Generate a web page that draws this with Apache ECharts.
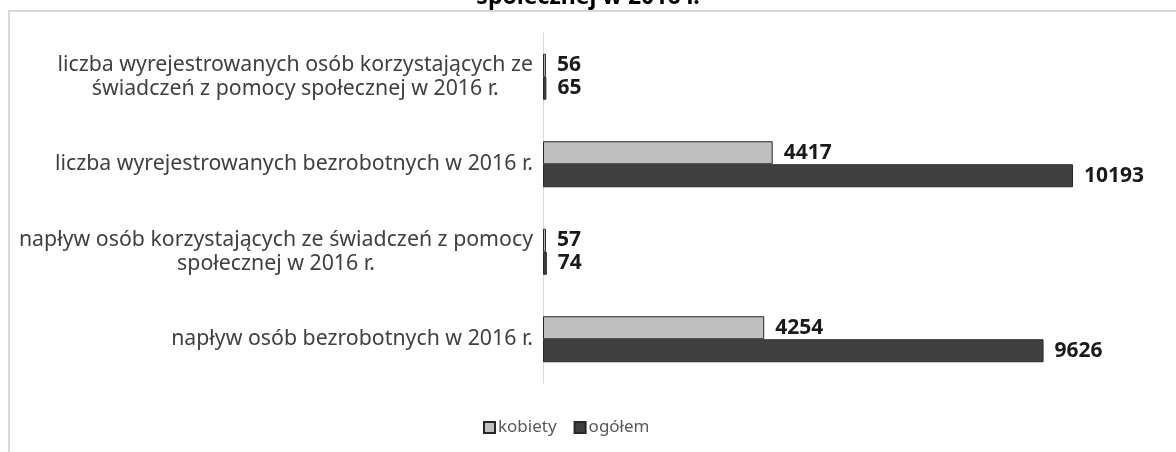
<!DOCTYPE html>
<html lang="pl">
<head>
    <meta charset="UTF-8">
    <title>Wykres</title>
    <script src="https://cdn.jsdelivr.net/npm/echarts@6/dist/echarts.min.js"></script>
    <style>
        html, body { margin: 0; padding: 0; background: #fff; overflow: hidden; }
        #chart { width: 1176px; height: 452px; }
    </style>
</head>
<body>
    <div id="chart"></div>
    <script>
        // dane, od góry do dołu jak na wykresie
        var categories = [
            'liczba wyrejestrowanych osób korzystających ze\nświadczeń z pomocy społecznej w 2016 r.',
            'liczba wyrejestrowanych bezrobotnych w 2016 r.',
            'napływ osób korzystających ze świadczeń z pomocy\nspołecznej w 2016 r.',
            'napływ osób bezrobotnych w 2016 r.'
        ];
        var kobiety = [56, 4417, 57, 4254];
        var ogolem = [65, 10193, 74, 9626];
        var seriesNames = ['kobiety', 'ogółem'];
        var titleText = 'społecznej w 2016 r.';

        var myChart = echarts.init(document.getElementById('chart'));

        var labelStyle = {
            show: true,
            position: 'right',
            distance: 11,
            color: '#1a1a1a',
            fontFamily: 'Noto Sans',
            fontWeight: 'bold',
            fontSize: 21
        };

        var option = {
            animation: false,
            title: {
                text: titleText,
                left: 'center',
                top: -19,
                textStyle: {
                    fontFamily: 'Noto Sans',
                    fontWeight: 'bold',
                    fontSize: 23,
                    color: '#000'
                }
            },
            graphic: [{
                type: 'rect',
                shape: { x: 9, y: 11, width: 1300, height: 600 },
                style: { fill: 'none', stroke: '#d9d9d9', lineWidth: 2 },
                silent: true
            }],
            legend: {
                left: 483,
                top: 419,
                padding: 0,
                itemWidth: 11,
                itemHeight: 11,
                itemGap: 17,
                icon: 'rect',
                textStyle: {
                    fontFamily: 'Noto Sans',
                    fontSize: 17,
                    color: '#595959',
                    padding: [0, 0, 0, -2]
                },
                data: seriesNames
            },
            grid: {
                left: 543,
                right: 9,
                top: 33,
                bottom: 69
            },
            xAxis: {
                type: 'value',
                min: 0,
                max: 12000,
                show: false
            },
            yAxis: {
                type: 'category',
                inverse: true,
                data: categories,
                axisLine: { lineStyle: { color: '#d9d9d9', width: 1 } },
                axisTick: { show: false },
                axisLabel: {
                    margin: 10,
                    color: '#404040',
                    fontFamily: 'Noto Sans',
                    fontSize: 21.3,
                    formatter: function (v) {
                        return v.split('\n').map(function (s) { return '{a|' + s + '}'; }).join('\n');
                    },
                    rich: {
                        a: {
                            align: 'center',
                            color: '#404040',
                            fontFamily: 'Noto Sans',
                            fontSize: 21.3,
                            lineHeight: 24
                        }
                    }
                }
            },
            series: [{
                name: seriesNames[0],
                type: 'bar',
                data: kobiety,
                barWidth: 23,
                barGap: '0%',
                itemStyle: { color: '#bfbfbf', borderColor: '#262626', borderWidth: 1 },
                label: labelStyle
            }, {
                name: seriesNames[1],
                type: 'bar',
                data: ogolem,
                barWidth: 23,
                barGap: '0%',
                itemStyle: { color: '#404040', borderColor: '#262626', borderWidth: 1 },
                label: labelStyle
            }]
        };
        myChart.setOption(option);
    </script>
</body>
</html>
